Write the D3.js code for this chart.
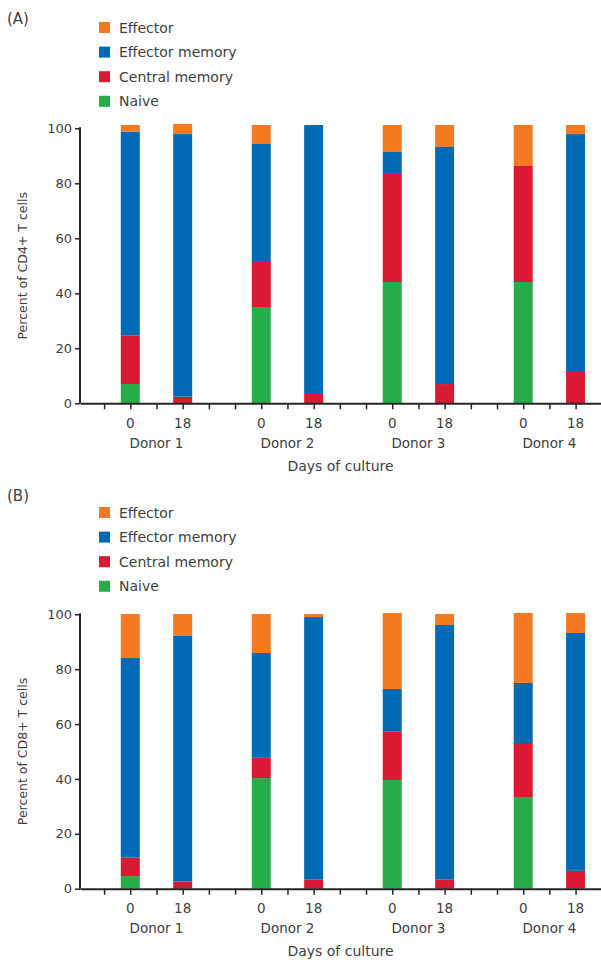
<!DOCTYPE html>
<html>
<head>
<meta charset="utf-8">
<script src="https://cdn.jsdelivr.net/npm/d3@7"></script>
<style>
  html, body { margin: 0; padding: 0; background: #fff; }
  svg { display: block; font-family: "DejaVu Sans", "Noto Sans", sans-serif; }
</style>
</head>
<body>
<svg id="chart" width="601" height="964"></svg>
<script>
// T-cell subset composition per donor, at day 0 and day 18 of culture
const donors = ["Donor 1", "Donor 2", "Donor 3", "Donor 4"];
const days = ["0", "18"];
// stacking order, bottom to top
const subsets = ["Naive", "Central memory", "Effector memory", "Effector"];
// legend order, top to bottom
const legendOrder = ["Effector", "Effector memory", "Central memory", "Naive"];
const subsetColors = ["#27AC4A", "#DA1A32", "#006AB5", "#F47920"];
const yTicks = [0, 20, 40, 60, 80, 100];

// CD4+ values, bars ordered Donor1 d0, Donor1 d18, Donor2 d0, ...
const cd4Naive   = [7.0, 0.0, 35.0, 0.0, 44.1, 0.0, 44.1, 0.0];
const cd4Central = [17.7, 2.4, 16.4, 3.4, 39.3, 7.0, 42.2, 11.4];
const cd4EffMem  = [74.1, 95.5, 42.9, 97.8, 8.0, 86.2, 0.0, 86.5];
const cd4Eff     = [2.4, 3.7, 6.9, 0.0, 9.8, 8.0, 14.9, 3.3];

// CD8+ values, same bar order
const cd8Naive   = [4.6, 0.0, 40.3, 0.0, 39.6, 0.0, 33.4, 0.0];
const cd8Central = [6.7, 2.6, 7.4, 3.3, 17.6, 3.3, 19.7, 6.5];
const cd8EffMem  = [72.8, 89.5, 38.2, 95.7, 15.6, 92.8, 21.9, 86.7];
const cd8Eff     = [16.0, 8.0, 14.2, 1.1, 27.7, 4.0, 25.5, 7.3];

const svg = d3.select("#chart");
const textColor = "#404040";
const axisColor = "#262626";

const panels = [
  { tag: "(A)", tagY: 18.5, legendTop: 22, yRange: [403.3, 128.3],
    title: "Percent of CD4+ T cells",
    series: [cd4Naive, cd4Central, cd4EffMem, cd4Eff] },
  { tag: "(B)", tagY: 496, legendTop: 507, yRange: [888.7, 614.3],
    title: "Percent of CD8+ T cells",
    series: [cd8Naive, cd8Central, cd8EffMem, cd8Eff] }
];

// slot grid along the x axis: one tick per slot, bars at 1 + 5*donor + 2*day
const x = d3.scaleLinear().domain([-0.92, 18.97]).range([80, 601]);
const slot = (d, k) => 1 + 5 * d + 2 * k;
const barW = 19;

panels.forEach(p => {
  const g = svg.append("g");
  const y = d3.scaleLinear().domain([0, 100]).range(p.yRange);

  // panel tag
  g.append("text").attr("x", 7).attr("y", p.tagY)
    .attr("dominant-baseline", "central")
    .attr("font-size", 15).attr("fill", textColor).text(p.tag);

  // legend
  const leg = g.append("g");
  legendOrder.forEach((name, i) => {
    const cy = p.legendTop + 5.5 + i * 24.6;
    leg.append("rect").attr("x", 99).attr("y", cy - 5.5)
      .attr("width", 11).attr("height", 11)
      .attr("fill", subsetColors[subsets.indexOf(name)]);
    leg.append("text").attr("x", 119).attr("y", cy)
      .attr("dominant-baseline", "central")
      .attr("font-size", 14).attr("fill", textColor).text(name);
  });

  // stacked bars
  const rows = [];
  donors.forEach((dn, d) => days.forEach((day, k) => {
    const idx = d * 2 + k;
    const row = { donor: dn, day: day, pos: slot(d, k) };
    subsets.forEach((s, si) => row[s] = p.series[si][idx]);
    rows.push(row);
  }));
  const stack = d3.stack().keys(subsets)(rows);
  g.append("g").selectAll("g").data(stack).join("g")
    .attr("fill", (s, i) => subsetColors[i])
    .selectAll("rect").data(s => s).join("rect")
      .attr("x", r => x(r.data.pos) - barW / 2)
      .attr("width", barW)
      .attr("y", r => y(r[1]))
      .attr("height", r => Math.max(0, y(r[0]) - y(r[1])));

  // y axis
  const yAxis = g.append("g").attr("transform", `translate(${x.range()[0]},0)`)
    .call(d3.axisLeft(y).tickValues(yTicks).tickSize(5).tickSizeOuter(0).tickPadding(3));
  yAxis.select(".domain").attr("stroke", axisColor).attr("stroke-width", 2)
    .attr("d", `M0,${y(0)}V${y(100) - 1}`);
  yAxis.selectAll(".tick line").attr("stroke", axisColor).attr("stroke-width", 1.5);
  yAxis.selectAll(".tick text").attr("font-size", 13).attr("fill", textColor)
    .attr("font-family", "\"DejaVu Sans\", sans-serif");

  // y axis title
  const ymid = (p.yRange[0] + p.yRange[1]) / 2;
  g.append("text").attr("transform", `translate(22,${ymid}) rotate(-90)`)
    .attr("text-anchor", "middle").attr("dominant-baseline", "central")
    .attr("font-size", 12.5).attr("fill", textColor).text(p.title);

  // x axis: plain tick marks on the slot grid
  const xAxis = g.append("g").attr("transform", `translate(0,${y(0)})`)
    .call(d3.axisBottom(x).tickValues(d3.range(0, 19)).tickFormat("").tickSize(6).tickSizeOuter(0));
  xAxis.select(".domain").attr("stroke", axisColor).attr("stroke-width", 2);
  xAxis.selectAll(".tick line").attr("stroke", axisColor).attr("stroke-width", 1.5);

  // day labels, donor labels, axis title
  const base = y(0);
  rows.forEach(r => {
    g.append("text").attr("x", x(r.pos)).attr("y", base + 24.5)
      .attr("text-anchor", "middle").attr("font-size", 13.5)
      .attr("fill", textColor).text(r.day);
  });
  donors.forEach((dn, d) => {
    g.append("text").attr("x", x(slot(d, 0) + 1)).attr("y", base + 44.5)
      .attr("text-anchor", "middle").attr("font-size", 13.5)
      .attr("fill", textColor).text(dn);
  });
  g.append("text").attr("x", (x.range()[0] + x.range()[1]) / 2).attr("y", base + 67.5)
    .attr("text-anchor", "middle").attr("font-size", 14)
    .attr("fill", textColor).text("Days of culture");
});
</script>
</body>
</html>
